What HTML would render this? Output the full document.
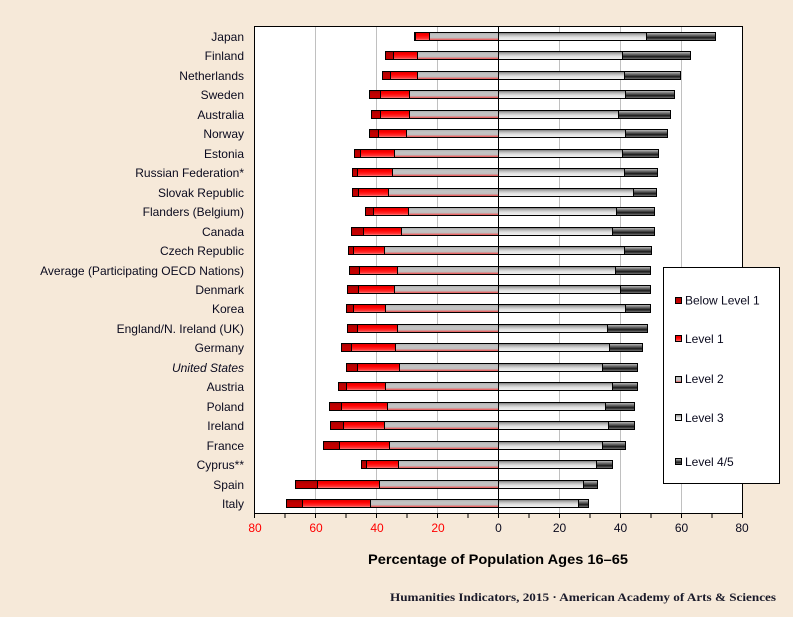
<!DOCTYPE html>
<html><head><meta charset="utf-8"><style>
html,body{margin:0;padding:0;background:#F6E9D9;}
svg{display:block;}
text{font-family:"Liberation Sans",Arial,sans-serif;}
</style></head><body>
<svg width="793" height="617" viewBox="0 0 793 617" xmlns="http://www.w3.org/2000/svg">
<defs>
<linearGradient id="bl1" x1="0" y1="0" x2="0" y2="1"><stop offset="0" stop-color="#A00000"/><stop offset="0.4" stop-color="#C00000"/><stop offset="1" stop-color="#C80000"/></linearGradient>
<linearGradient id="l1" x1="0" y1="0" x2="0" y2="1"><stop offset="0" stop-color="#D80000"/><stop offset="0.35" stop-color="#FF0000"/><stop offset="0.75" stop-color="#FF3030"/><stop offset="1" stop-color="#FF9090"/></linearGradient>
<linearGradient id="l2" x1="0" y1="0" x2="0" y2="1"><stop offset="0" stop-color="#A8A8A8"/><stop offset="0.3" stop-color="#C4C4C4"/><stop offset="0.65" stop-color="#C0C0C0"/><stop offset="0.85" stop-color="#E07070"/><stop offset="1" stop-color="#FF4040"/></linearGradient>
<linearGradient id="l3" x1="0" y1="0" x2="0" y2="1"><stop offset="0" stop-color="#707070"/><stop offset="0.3" stop-color="#B8B8B8"/><stop offset="0.6" stop-color="#E2E2E2"/><stop offset="1" stop-color="#F2F2F2"/></linearGradient>
<linearGradient id="l45" x1="0" y1="0" x2="0" y2="1"><stop offset="0" stop-color="#C8C8C8"/><stop offset="0.35" stop-color="#6A6A6A"/><stop offset="0.65" stop-color="#1A1A1A"/><stop offset="1" stop-color="#8A8A8A"/></linearGradient>
</defs>
<rect x="0" y="0" width="793" height="617" fill="#F6E9D9"/>
<!-- plot area -->
<rect x="254.5" y="26.5" width="488" height="487" fill="#FFFFFF"/>
<g stroke="#C0C0C0" stroke-width="1">
<line x1="315.5" y1="27" x2="315.5" y2="513"/>
<line x1="376.5" y1="27" x2="376.5" y2="513"/>
<line x1="437.5" y1="27" x2="437.5" y2="513"/>
<line x1="559.5" y1="27" x2="559.5" y2="513"/>
<line x1="620.5" y1="27" x2="620.5" y2="513"/>
<line x1="681.5" y1="27" x2="681.5" y2="513"/>
</g>
<g stroke="#000" stroke-width="1" shape-rendering="crispEdges">
<!-- rows: a, widths -->
<rect x="414.5" y="32.5" width="1" height="8" fill="url(#bl1)"/><rect x="415.5" y="32.5" width="14" height="8" fill="url(#l1)"/><rect x="429.5" y="32.5" width="69" height="8" fill="url(#l2)"/><rect x="498.5" y="32.5" width="148" height="8" fill="url(#l3)"/><rect x="646.5" y="32.5" width="69" height="8" fill="url(#l45)"/>
<rect x="385.5" y="51.5" width="8" height="8" fill="url(#bl1)"/><rect x="393.5" y="51.5" width="24" height="8" fill="url(#l1)"/><rect x="417.5" y="51.5" width="81" height="8" fill="url(#l2)"/><rect x="498.5" y="51.5" width="124" height="8" fill="url(#l3)"/><rect x="622.5" y="51.5" width="68" height="8" fill="url(#l45)"/>
<rect x="382.5" y="71.5" width="8" height="8" fill="url(#bl1)"/><rect x="390.5" y="71.5" width="27" height="8" fill="url(#l1)"/><rect x="417.5" y="71.5" width="81" height="8" fill="url(#l2)"/><rect x="498.5" y="71.5" width="126" height="8" fill="url(#l3)"/><rect x="624.5" y="71.5" width="56" height="8" fill="url(#l45)"/>
<rect x="369.5" y="90.5" width="11" height="8" fill="url(#bl1)"/><rect x="380.5" y="90.5" width="29" height="8" fill="url(#l1)"/><rect x="409.5" y="90.5" width="89" height="8" fill="url(#l2)"/><rect x="498.5" y="90.5" width="127" height="8" fill="url(#l3)"/><rect x="625.5" y="90.5" width="49" height="8" fill="url(#l45)"/>
<rect x="371.5" y="110.5" width="9" height="8" fill="url(#bl1)"/><rect x="380.5" y="110.5" width="29" height="8" fill="url(#l1)"/><rect x="409.5" y="110.5" width="89" height="8" fill="url(#l2)"/><rect x="498.5" y="110.5" width="120" height="8" fill="url(#l3)"/><rect x="618.5" y="110.5" width="52" height="8" fill="url(#l45)"/>
<rect x="369.5" y="129.5" width="9" height="8" fill="url(#bl1)"/><rect x="378.5" y="129.5" width="28" height="8" fill="url(#l1)"/><rect x="406.5" y="129.5" width="92" height="8" fill="url(#l2)"/><rect x="498.5" y="129.5" width="127" height="8" fill="url(#l3)"/><rect x="625.5" y="129.5" width="42" height="8" fill="url(#l45)"/>
<rect x="354.5" y="149.5" width="6" height="8" fill="url(#bl1)"/><rect x="360.5" y="149.5" width="34" height="8" fill="url(#l1)"/><rect x="394.5" y="149.5" width="104" height="8" fill="url(#l2)"/><rect x="498.5" y="149.5" width="124" height="8" fill="url(#l3)"/><rect x="622.5" y="149.5" width="36" height="8" fill="url(#l45)"/>
<rect x="352.5" y="168.5" width="5" height="8" fill="url(#bl1)"/><rect x="357.5" y="168.5" width="35" height="8" fill="url(#l1)"/><rect x="392.5" y="168.5" width="106" height="8" fill="url(#l2)"/><rect x="498.5" y="168.5" width="126" height="8" fill="url(#l3)"/><rect x="624.5" y="168.5" width="33" height="8" fill="url(#l45)"/>
<rect x="352.5" y="188.5" width="6" height="8" fill="url(#bl1)"/><rect x="358.5" y="188.5" width="30" height="8" fill="url(#l1)"/><rect x="388.5" y="188.5" width="110" height="8" fill="url(#l2)"/><rect x="498.5" y="188.5" width="135" height="8" fill="url(#l3)"/><rect x="633.5" y="188.5" width="23" height="8" fill="url(#l45)"/>
<rect x="365.5" y="207.5" width="8" height="8" fill="url(#bl1)"/><rect x="373.5" y="207.5" width="35" height="8" fill="url(#l1)"/><rect x="408.5" y="207.5" width="90" height="8" fill="url(#l2)"/><rect x="498.5" y="207.5" width="118" height="8" fill="url(#l3)"/><rect x="616.5" y="207.5" width="38" height="8" fill="url(#l45)"/>
<rect x="351.5" y="227.5" width="12" height="8" fill="url(#bl1)"/><rect x="363.5" y="227.5" width="38" height="8" fill="url(#l1)"/><rect x="401.5" y="227.5" width="97" height="8" fill="url(#l2)"/><rect x="498.5" y="227.5" width="114" height="8" fill="url(#l3)"/><rect x="612.5" y="227.5" width="42" height="8" fill="url(#l45)"/>
<rect x="348.5" y="246.5" width="5" height="8" fill="url(#bl1)"/><rect x="353.5" y="246.5" width="31" height="8" fill="url(#l1)"/><rect x="384.5" y="246.5" width="114" height="8" fill="url(#l2)"/><rect x="498.5" y="246.5" width="126" height="8" fill="url(#l3)"/><rect x="624.5" y="246.5" width="27" height="8" fill="url(#l45)"/>
<rect x="349.5" y="266.5" width="10" height="8" fill="url(#bl1)"/><rect x="359.5" y="266.5" width="38" height="8" fill="url(#l1)"/><rect x="397.5" y="266.5" width="101" height="8" fill="url(#l2)"/><rect x="498.5" y="266.5" width="117" height="8" fill="url(#l3)"/><rect x="615.5" y="266.5" width="35" height="8" fill="url(#l45)"/>
<rect x="347.5" y="285.5" width="11" height="8" fill="url(#bl1)"/><rect x="358.5" y="285.5" width="36" height="8" fill="url(#l1)"/><rect x="394.5" y="285.5" width="104" height="8" fill="url(#l2)"/><rect x="498.5" y="285.5" width="122" height="8" fill="url(#l3)"/><rect x="620.5" y="285.5" width="30" height="8" fill="url(#l45)"/>
<rect x="346.5" y="304.5" width="7" height="8" fill="url(#bl1)"/><rect x="353.5" y="304.5" width="32" height="8" fill="url(#l1)"/><rect x="385.5" y="304.5" width="113" height="8" fill="url(#l2)"/><rect x="498.5" y="304.5" width="127" height="8" fill="url(#l3)"/><rect x="625.5" y="304.5" width="25" height="8" fill="url(#l45)"/>
<rect x="347.5" y="324.5" width="10" height="8" fill="url(#bl1)"/><rect x="357.5" y="324.5" width="40" height="8" fill="url(#l1)"/><rect x="397.5" y="324.5" width="101" height="8" fill="url(#l2)"/><rect x="498.5" y="324.5" width="109" height="8" fill="url(#l3)"/><rect x="607.5" y="324.5" width="40" height="8" fill="url(#l45)"/>
<rect x="341.5" y="343.5" width="10" height="8" fill="url(#bl1)"/><rect x="351.5" y="343.5" width="44" height="8" fill="url(#l1)"/><rect x="395.5" y="343.5" width="103" height="8" fill="url(#l2)"/><rect x="498.5" y="343.5" width="111" height="8" fill="url(#l3)"/><rect x="609.5" y="343.5" width="33" height="8" fill="url(#l45)"/>
<rect x="346.5" y="363.5" width="11" height="8" fill="url(#bl1)"/><rect x="357.5" y="363.5" width="42" height="8" fill="url(#l1)"/><rect x="399.5" y="363.5" width="99" height="8" fill="url(#l2)"/><rect x="498.5" y="363.5" width="104" height="8" fill="url(#l3)"/><rect x="602.5" y="363.5" width="35" height="8" fill="url(#l45)"/>
<rect x="338.5" y="382.5" width="8" height="8" fill="url(#bl1)"/><rect x="346.5" y="382.5" width="39" height="8" fill="url(#l1)"/><rect x="385.5" y="382.5" width="113" height="8" fill="url(#l2)"/><rect x="498.5" y="382.5" width="114" height="8" fill="url(#l3)"/><rect x="612.5" y="382.5" width="25" height="8" fill="url(#l45)"/>
<rect x="329.5" y="402.5" width="12" height="8" fill="url(#bl1)"/><rect x="341.5" y="402.5" width="46" height="8" fill="url(#l1)"/><rect x="387.5" y="402.5" width="111" height="8" fill="url(#l2)"/><rect x="498.5" y="402.5" width="107" height="8" fill="url(#l3)"/><rect x="605.5" y="402.5" width="29" height="8" fill="url(#l45)"/>
<rect x="330.5" y="421.5" width="13" height="8" fill="url(#bl1)"/><rect x="343.5" y="421.5" width="41" height="8" fill="url(#l1)"/><rect x="384.5" y="421.5" width="114" height="8" fill="url(#l2)"/><rect x="498.5" y="421.5" width="110" height="8" fill="url(#l3)"/><rect x="608.5" y="421.5" width="26" height="8" fill="url(#l45)"/>
<rect x="323.5" y="441.5" width="16" height="8" fill="url(#bl1)"/><rect x="339.5" y="441.5" width="50" height="8" fill="url(#l1)"/><rect x="389.5" y="441.5" width="109" height="8" fill="url(#l2)"/><rect x="498.5" y="441.5" width="104" height="8" fill="url(#l3)"/><rect x="602.5" y="441.5" width="23" height="8" fill="url(#l45)"/>
<rect x="361.5" y="460.5" width="5" height="8" fill="url(#bl1)"/><rect x="366.5" y="460.5" width="32" height="8" fill="url(#l1)"/><rect x="398.5" y="460.5" width="100" height="8" fill="url(#l2)"/><rect x="498.5" y="460.5" width="98" height="8" fill="url(#l3)"/><rect x="596.5" y="460.5" width="16" height="8" fill="url(#l45)"/>
<rect x="295.5" y="480.5" width="22" height="8" fill="url(#bl1)"/><rect x="317.5" y="480.5" width="62" height="8" fill="url(#l1)"/><rect x="379.5" y="480.5" width="119" height="8" fill="url(#l2)"/><rect x="498.5" y="480.5" width="85" height="8" fill="url(#l3)"/><rect x="583.5" y="480.5" width="14" height="8" fill="url(#l45)"/>
<rect x="286.5" y="499.5" width="16" height="8" fill="url(#bl1)"/><rect x="302.5" y="499.5" width="68" height="8" fill="url(#l1)"/><rect x="370.5" y="499.5" width="128" height="8" fill="url(#l2)"/><rect x="498.5" y="499.5" width="80" height="8" fill="url(#l3)"/><rect x="578.5" y="499.5" width="10" height="8" fill="url(#l45)"/>
</g>
<!-- zero line & frame -->
<g stroke="#000" stroke-width="1" fill="none" shape-rendering="crispEdges">
<line x1="498.5" y1="26" x2="498.5" y2="514"/>
<rect x="254.5" y="26.5" width="488" height="487"/>
<line x1="254.5" y1="513" x2="254.5" y2="518"/>
<line x1="285" y1="513" x2="285" y2="518"/>
<line x1="315.5" y1="513" x2="315.5" y2="518"/>
<line x1="346" y1="513" x2="346" y2="518"/>
<line x1="376.5" y1="513" x2="376.5" y2="518"/>
<line x1="407" y1="513" x2="407" y2="518"/>
<line x1="437.5" y1="513" x2="437.5" y2="518"/>
<line x1="468" y1="513" x2="468" y2="518"/>
<line x1="498.5" y1="513" x2="498.5" y2="518"/>
<line x1="529" y1="513" x2="529" y2="518"/>
<line x1="559.5" y1="513" x2="559.5" y2="518"/>
<line x1="590" y1="513" x2="590" y2="518"/>
<line x1="620.5" y1="513" x2="620.5" y2="518"/>
<line x1="651" y1="513" x2="651" y2="518"/>
<line x1="681.5" y1="513" x2="681.5" y2="518"/>
<line x1="712" y1="513" x2="712" y2="518"/>
<line x1="742.5" y1="513" x2="742.5" y2="518"/>
</g>
<!-- category labels -->
<g font-size="12" fill="#0A0A1E" text-anchor="end">
<text x="244" y="41">Japan</text>
<text x="244" y="60">Finland</text>
<text x="244" y="80">Netherlands</text>
<text x="244" y="99">Sweden</text>
<text x="244" y="119">Australia</text>
<text x="244" y="138">Norway</text>
<text x="244" y="158">Estonia</text>
<text x="244" y="177">Russian Federation*</text>
<text x="244" y="197">Slovak Republic</text>
<text x="244" y="216">Flanders (Belgium)</text>
<text x="244" y="236">Canada</text>
<text x="244" y="255">Czech Republic</text>
<text x="244" y="275">Average (Participating OECD Nations)</text>
<text x="244" y="294">Denmark</text>
<text x="244" y="313">Korea</text>
<text x="244" y="333">England/N. Ireland (UK)</text>
<text x="244" y="352">Germany</text>
<text x="244" y="372" font-style="italic">United States</text>
<text x="244" y="391">Austria</text>
<text x="244" y="411">Poland</text>
<text x="244" y="430">Ireland</text>
<text x="244" y="450">France</text>
<text x="244" y="469">Cyprus**</text>
<text x="244" y="489">Spain</text>
<text x="244" y="508">Italy</text>
</g>
<!-- x tick labels -->
<g font-size="12" text-anchor="middle">
<text x="255" y="532" fill="#FF0000">80</text>
<text x="316" y="532" fill="#FF0000">60</text>
<text x="377" y="532" fill="#FF0000">40</text>
<text x="438" y="532" fill="#FF0000">20</text>
<text x="498.5" y="532" fill="#0A0A1E">0</text>
<text x="559.5" y="532" fill="#0A0A1E">20</text>
<text x="620.5" y="532" fill="#0A0A1E">40</text>
<text x="681.5" y="532" fill="#0A0A1E">60</text>
<text x="742" y="532" fill="#0A0A1E">80</text>
</g>
<text x="498" y="564" font-size="14" font-weight="bold" text-anchor="middle" fill="#000" textLength="260" lengthAdjust="spacingAndGlyphs">Percentage of Population Ages 16–65</text>
<!-- legend -->
<rect x="663.5" y="267.5" width="116" height="216" fill="#FFFFFF" stroke="#000" stroke-width="1" shape-rendering="crispEdges"/>
<g stroke="#000" stroke-width="1" shape-rendering="crispEdges">
<rect x="675.5" y="297.5" width="6" height="6" fill="url(#bl1)"/>
<rect x="675.5" y="335.5" width="6" height="6" fill="url(#l1)"/>
<rect x="675.5" y="376.5" width="6" height="6" fill="url(#l2)"/>
<rect x="675.5" y="414.5" width="6" height="6" fill="url(#l3)"/>
<rect x="675.5" y="458.5" width="6" height="6" fill="url(#l45)"/>
</g>
<g font-size="12" fill="#0A0A1E">
<text x="685" y="304.5">Below Level 1</text>
<text x="685" y="343">Level 1</text>
<text x="685" y="383">Level 2</text>
<text x="685" y="422">Level 3</text>
<text x="685" y="466">Level 4/5</text>
</g>
<!-- footer -->
<text x="390" y="601" font-family="Liberation Serif, serif" font-size="12" font-weight="bold" fill="#1A1A2A" textLength="386" lengthAdjust="spacingAndGlyphs" style="font-family:'Liberation Serif',serif">Humanities Indicators, 2015 · American Academy of Arts &amp; Sciences</text>
</svg>
</body></html>
